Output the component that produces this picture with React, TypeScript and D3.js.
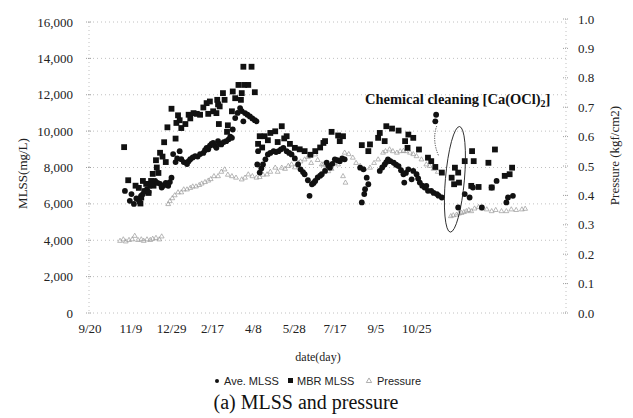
import React from "react";
import * as d3 from "d3";

const xTickDays = [0, 50, 100, 150, 200, 250, 300, 350, 400];
const xTickLabels = ["9/20", "11/9", "12/29", "2/17", "4/8", "5/28", "7/17", "9/5", "10/25"];
const yLeftTicks = [0, 2000, 4000, 6000, 8000, 10000, 12000, 14000, 16000];
const yRightTicks = [0, 0.1, 0.2, 0.3, 0.4, 0.5, 0.6, 0.7, 0.8, 0.9, 1.0];

// MBR MLSS (squares)
const mbrDays = [43, 48, 57, 61, 63, 64, 66, 68, 70, 73, 76, 78, 79, 82, 83, 85, 87, 90, 92, 94, 96, 101, 106, 107, 109, 111, 113, 118, 122, 124, 128, 132, 136, 140, 144, 146, 148, 152, 156, 157, 158, 159, 160, 164, 166, 169, 170, 175, 176, 179, 183, 186, 187, 189, 190, 195, 199, 203,
  207, 209, 212, 215, 219, 222, 228, 231, 236, 239, 242, 246, 252, 258, 264, 271, 277, 283, 287, 289, 297, 305, 307, 311,
  334, 342, 344, 354, 356, 362, 364, 371, 379, 387, 390, 391, 397, 404, 415, 419, 424, 432, 444, 447, 448, 452, 453, 460, 468, 469, 471, 477, 489, 493, 497, 509, 515, 518];
const mbrValues = [9120, 7300, 7000, 6880, 6020, 6350, 7260, 6700, 7100, 6600, 7260, 7650, 7000, 8400, 8000, 7700, 8810, 8600, 9390, 8300, 10210, 11230, 9590, 10450, 10870, 10600, 10170, 10390, 10900, 10700, 10990, 10950, 10900, 11300, 11540, 10950, 11630, 11090, 10990, 11720, 11470, 10390, 11360, 12090, 11720, 9960, 10320, 11090, 12180, 11810, 12540, 11720, 12090, 13540, 12540, 12540, 13540, 12140,
  9300, 9720, 9100, 9720, 9500, 9900, 9990, 9400, 10270, 9600, 9720, 9300, 9080, 9000, 8900, 8700, 8900, 9100, 9350, 9450, 9960, 9760, 9450, 9720,
  9230, 8900, 9270, 9630, 9900, 9450, 10270, 10140, 10030, 9450, 9080, 9810, 9630, 8990, 8540, 8350, 8030, 7720, 7440, 7080, 7990, 7720, 7170, 8350, 6990, 8900, 8350, 6930, 8260, 6900, 8990, 7540, 7630, 7990];

// Ave. MLSS (circles)
const aveDays = [44, 50, 52, 55, 58, 60, 62, 64, 66, 68, 71, 73, 75, 78, 81, 84, 87, 89, 91, 94, 97, 99, 101, 103, 106, 108, 111, 113, 116, 120, 122, 124, 127, 130, 133, 136, 140, 142, 144, 146, 148, 150, 152, 154, 156, 158, 160, 162, 165, 168, 171, 173, 175, 176, 179, 182, 185, 187, 189, 191, 194, 197, 200, 203, 205,
  206, 207, 209, 211, 213, 216, 219, 222, 226, 229, 232, 235, 238, 242, 245, 248, 252, 256, 259, 262, 264, 268, 270, 273, 275, 277, 280, 283, 285, 289, 291, 293, 295, 298, 301, 304, 307, 310, 313,
  332, 334, 336, 337, 338, 340, 342, 356, 359, 362, 364, 366, 369, 373, 376, 379, 382, 385, 386, 388, 391, 395, 397, 401, 403, 405, 408, 411, 413, 415, 419, 422, 424, 425, 426, 428, 432,
  452, 460, 466, 470, 481, 493, 499, 511, 513, 519];
const aveValues = [6710, 6170, 6540, 6000, 6300, 6260, 6100, 6450, 6540, 6700, 6810, 6650, 6990, 7100, 7260, 7150, 7100, 6900, 7000, 7150, 6990, 7200, 7440, 8740, 8300, 8500, 8900, 8460, 8300, 8190, 8350, 8460, 8550, 8630, 8600, 8740, 8800, 8950, 9080, 9000, 9200, 9300, 9350, 9200, 9080, 9450, 9300, 9270, 9400, 9450, 9550, 9700, 9630, 10090, 10720, 11000, 11270, 11100, 10540, 10990, 10900, 10810, 10700, 10600, 10540,
  8170, 8900, 7720, 7950, 8170, 8450, 8720, 8800, 8900, 8850, 8900, 9000, 9080, 8900, 8800, 8720, 8500, 8170, 7900, 7750, 7630, 7300, 6440, 7080, 7150, 7260, 7450, 7550, 7630, 7810, 8260, 8100, 7990, 8200, 8450, 8400, 8350, 8500, 8450,
  7990, 6080, 7900, 6540, 6810, 7440, 7080, 7810, 8000, 8170, 8300, 8450, 8350, 8260, 8150, 8080, 7850, 7630, 7170, 7700, 7900, 7350, 7810, 7630, 7400, 7170, 7000, 6900, 6990, 6720, 6720, 6600, 10540, 10900, 6540, 6450, 6350,
  5800, 6540, 6350, 6900, 5800, 6900, 7260, 6080, 6350, 6440];

// Pressure (triangles, kgf/cm2)
const prDays = [38, 42, 45, 49, 53, 56, 60, 64, 67, 71, 75, 78, 82, 86, 89,
  97, 99, 102, 105, 109, 113, 116, 120, 124, 127, 131, 135, 138, 142, 146, 149, 153, 158, 162, 166, 170, 175, 180, 187, 191, 195, 200, 205, 209, 213, 218, 222, 228, 231, 236, 240, 244, 248, 252, 256, 259, 264, 268, 272, 277, 280, 285, 287, 289, 293, 297, 301, 305, 308, 311, 313, 314, 318, 323, 327, 332, 337, 344, 349, 354, 360, 363, 368, 372, 377, 381, 385, 388, 393, 397, 401, 407, 413, 417, 422, 427,
  443, 446, 450, 453, 456, 459, 462, 465, 468, 472, 477, 481, 487, 493, 498, 505, 511, 517, 523, 530, 534];
const prValues = [0.245, 0.25, 0.243, 0.248, 0.25, 0.262, 0.248, 0.25, 0.245, 0.25, 0.248, 0.252, 0.255, 0.25, 0.26,
  0.37, 0.38, 0.39, 0.4, 0.41, 0.41, 0.42, 0.42, 0.425, 0.43, 0.43, 0.435, 0.44, 0.445, 0.45, 0.455, 0.465, 0.465, 0.48, 0.488, 0.47, 0.465, 0.46, 0.454, 0.46, 0.471, 0.465, 0.46, 0.462, 0.47, 0.471, 0.48, 0.494, 0.48, 0.494, 0.49, 0.5, 0.505, 0.495, 0.51, 0.515, 0.522, 0.53, 0.51, 0.539, 0.52, 0.505, 0.505, 0.49, 0.482, 0.49, 0.51, 0.505, 0.52, 0.465, 0.545, 0.443, 0.54, 0.528, 0.51, 0.5, 0.49, 0.494, 0.51, 0.522, 0.545, 0.55, 0.556, 0.55, 0.545, 0.55, 0.551, 0.55, 0.545, 0.54, 0.533, 0.522, 0.505, 0.5, 0.49, 0.48,
  0.329, 0.332, 0.334, 0.338, 0.34, 0.343, 0.346, 0.35, 0.346, 0.355, 0.36, 0.355, 0.352, 0.346, 0.35, 0.346, 0.346, 0.352, 0.35, 0.352, 0.354];

const legendItems = ["Ave. MLSS", "MBR MLSS", "Pressure"];

const SERIF = "'Liberation Serif', 'Times New Roman', serif";
const SANS = "'Liberation Sans', Arial, sans-serif";

export default function App() {
  const W = 633, H = 418;
  const x = d3.scaleLinear().domain([0, 584]).range([89, 566]);
  const yL = d3.scaleLinear().domain([0, 16000]).range([313, 22]);
  const yR = d3.scaleLinear().domain([0, 1]).range([313, 19]);
  const fmt = d3.format(",");
  const tri = d3.symbol(d3.symbolTriangle, 10)() as string;
  const triLegend = d3.symbol(d3.symbolTriangle, 12)() as string;

  const sq = 5.8;
  const cx = x(448), cy = yL(7350);
  const spikeX = x(424.5), spikeY = yL(10500);

  return (
    <svg width={W} height={H} style={{ position: "absolute", left: 0, top: 0, background: "#fff" }}>
      <rect width={W} height={H} fill="#fff" />
      {yLeftTicks.map((t) => (
        <line key={"g" + t} x1={89} x2={566} y1={yL(t)} y2={yL(t)} stroke="#b0b0b0" strokeWidth={0.8} strokeDasharray="1 3" />
      ))}
      <line x1={89} x2={89} y1={yL(16000)} y2={313} stroke="#b0b0b0" strokeWidth={0.8} strokeDasharray="1 3" />
      <line x1={566} x2={566} y1={yR(1)} y2={313} stroke="#b0b0b0" strokeWidth={0.8} strokeDasharray="1 3" />
      {yLeftTicks.map((t) => (
        <line key={"lt" + t} x1={86} x2={92} y1={yL(t)} y2={yL(t)} stroke="#888" strokeWidth={0.8} strokeDasharray="1 1" />
      ))}
      {yRightTicks.map((t) => (
        <line key={"rt" + t} x1={563} x2={569} y1={yR(t)} y2={yR(t)} stroke="#888" strokeWidth={0.8} strokeDasharray="1 1" />
      ))}

      {yLeftTicks.map((t) => (
        <text key={"ll" + t} x={73} y={yL(t) + 4.5} textAnchor="end" fontFamily={SERIF} fontSize={13} fill="#222">
          {fmt(t)}
        </text>
      ))}
      {yRightTicks.map((t) => (
        <text key={"rl" + t} x={578} y={yR(t) + 4.5} textAnchor="start" fontFamily={SERIF} fontSize={13} fill="#222">
          {t.toFixed(1)}
        </text>
      ))}
      {xTickDays.map((d, i) => (
        <text key={"xl" + d} x={x(d) + 1} y={333} textAnchor="middle" fontFamily={SERIF} fontSize={13} fill="#222">
          {xTickLabels[i]}
        </text>
      ))}

      <text transform={`translate(27,${(313 + 22) / 2 + 6}) rotate(-90)`} textAnchor="middle" fontFamily={SERIF} fontSize={13} fill="#222">
        MLSS(mg/L)
      </text>
      <text transform={`translate(619,${(313 + 22) / 2 - 12}) rotate(-90)`} textAnchor="middle" fontFamily={SERIF} fontSize={13} fill="#222">
        Pressure (kgf/cm2)
      </text>
      <text x={318} y={361} textAnchor="middle" fontFamily={SERIF} fontSize={12} fill="#222">
        date(day)
      </text>

      {prDays.map((d, i) => (
        <path key={"p" + i} d={tri} transform={`translate(${x(d)},${yR(prValues[i])})`} fill="none" stroke="#999" strokeWidth={0.7} />
      ))}
      {mbrDays.map((d, i) => (
        <rect key={"m" + i} x={x(d) - sq / 2} y={yL(mbrValues[i]) - sq / 2} width={sq} height={sq} fill="#111" />
      ))}
      {aveDays.map((d, i) => (
        <circle key={"a" + i} cx={x(d)} cy={yL(aveValues[i])} r={2.9} fill="#111" />
      ))}

      <path d={`M${spikeX + 1},${spikeY + 4} Q${spikeX - 4},${spikeY + 18} ${spikeX + 3},${spikeY + 34}`} fill="none" stroke="#444" strokeWidth={1} strokeDasharray="1.2 1.2" />
      <ellipse cx={cx} cy={cy} rx={9.5} ry={53} transform={`rotate(5,${cx},${cy})`} fill="none" stroke="#222" strokeWidth={0.9} />
      <text x={365} y={104} fontFamily={SERIF} fontSize={14.5} fontWeight="bold" fill="#111">
        Chemical cleaning [Ca(OCl)
        <tspan fontSize={10} dy={3}>2</tspan>
        <tspan dy={-3}>]</tspan>
      </text>

      <g fontFamily={SANS} fontSize={11} fill="#222">
        <circle cx={217} cy={381} r={2} fill="#111" />
        <text x={224} y={385}>{legendItems[0]}</text>
        <rect x={288} y={378} width={5} height={5} fill="#111" />
        <text x={297} y={385}>{legendItems[1]}</text>
        <path d={triLegend} transform="translate(369,381)" fill="none" stroke="#999" strokeWidth={0.8} />
        <text x={377} y={385}>{legendItems[2]}</text>
      </g>

      <text x={306} y={409} textAnchor="middle" fontFamily={SERIF} fontSize={20} fill="#111">
        (a) MLSS and pressure
      </text>
    </svg>
  );
}
